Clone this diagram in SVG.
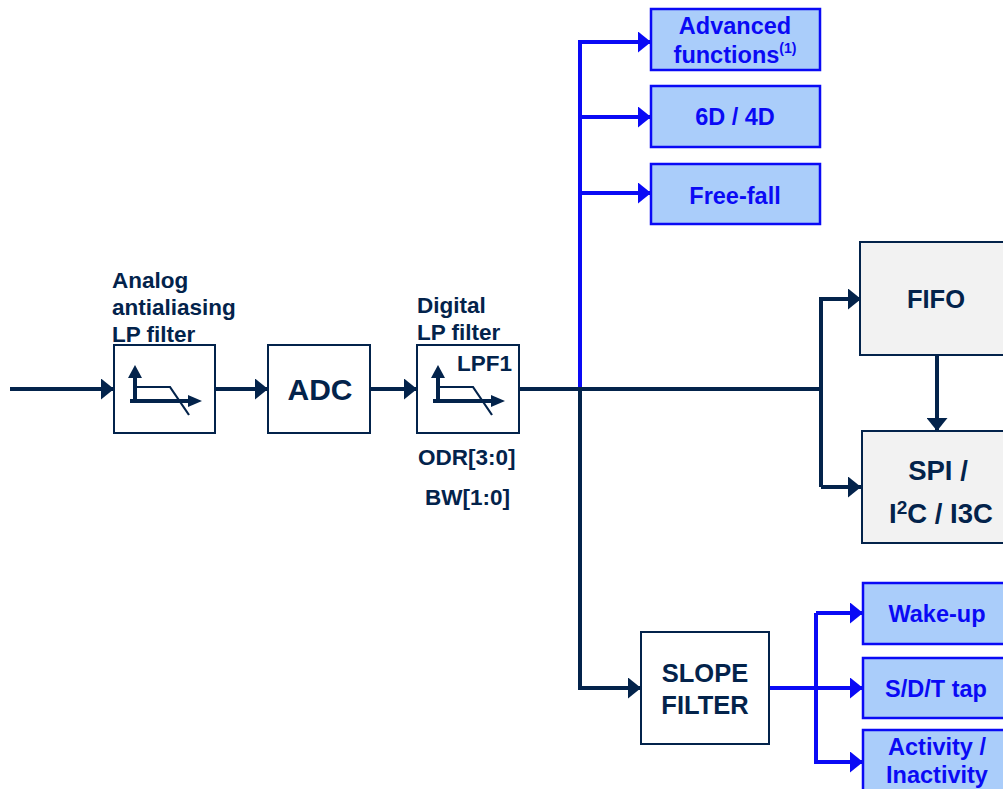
<svg xmlns="http://www.w3.org/2000/svg" width="1003" height="789" viewBox="0 0 1003 789">
<style>
text{font-family:"Liberation Sans",Arial,sans-serif;font-weight:bold}
.lbl{font-size:22.5px;fill:#03234b}
.dk{fill:#03234b}
.bl{fill:#0a0af5;font-size:23.5px}
.wbox{fill:#ffffff;stroke:#03234b;stroke-width:2}
.gbox{fill:#f2f2f2;stroke:#03234b;stroke-width:2}
.bbox{fill:#aacdfa;stroke:#0a0af5;stroke-width:2.5}
.cd{fill:none;stroke:#03234b;stroke-width:4}
.cb{fill:none;stroke:#0a0af5;stroke-width:4}
</style>
<defs>
<marker id="ad" markerUnits="userSpaceOnUse" markerWidth="13" markerHeight="21" refX="13" refY="10.5" orient="auto"><path d="M0,0 L13,10.5 L0,21 z" fill="#03234b"/></marker>
<marker id="ab" markerUnits="userSpaceOnUse" markerWidth="13" markerHeight="21" refX="13" refY="10.5" orient="auto"><path d="M0,0 L13,10.5 L0,21 z" fill="#0a0af5"/></marker>
<g id="icon">
<path d="M21,58 V30" stroke="#03234b" stroke-width="4" fill="none"/>
<path d="M14,33 L21,20 L28,33 z" fill="#03234b"/>
<path d="M16,56 H76" stroke="#03234b" stroke-width="4" fill="none"/>
<path d="M74,50 L88,56 L74,62 z" fill="#03234b"/>
<path d="M19,42 H56 L75,70" stroke="#03234b" stroke-width="2.2" fill="none"/>
</g>
</defs>

<g id="connectors">
<path class="cd" d="M10,389 H114" marker-end="url(#ad)"/>
<path class="cd" d="M215,389 H268" marker-end="url(#ad)"/>
<path class="cd" d="M370,389 H417" marker-end="url(#ad)"/>
<path class="cd" d="M519,389 H821"/>
<path class="cd" d="M821,487 V299 H861" marker-end="url(#ad)"/>
<path class="cd" d="M821,487 H861" marker-end="url(#ad)"/>
<path class="cd" d="M937,355 V431" marker-end="url(#ad)"/>
<path class="cb" d="M580,389 V42 H651" marker-end="url(#ab)"/>
<path class="cb" d="M580,117 H651" marker-end="url(#ab)"/>
<path class="cb" d="M580,193 H651" marker-end="url(#ab)"/>
<path class="cd" d="M580,387 V688 H641" marker-end="url(#ad)"/>
<path class="cb" d="M769,688 H863" marker-end="url(#ab)"/>
<path class="cb" d="M816,613 V762 H863" marker-end="url(#ab)"/>
<path class="cb" d="M816,613 H863" marker-end="url(#ab)"/>
</g>

<g id="aa-filter">
<text class="lbl" x="112" y="288">Analog</text>
<text class="lbl" x="112" y="315">antialiasing</text>
<text class="lbl" x="112" y="342">LP filter</text>
<rect class="wbox" x="114" y="345" width="101" height="88"/>
<use href="#icon" x="114" y="345"/>
</g>

<g id="adc">
<rect class="wbox" x="268" y="345" width="102" height="88"/>
<text class="dk" x="320" y="400" font-size="30" text-anchor="middle">ADC</text>
</g>

<g id="digital-filter">
<text class="lbl" x="417" y="313">Digital</text>
<text class="lbl" x="417" y="340">LP filter</text>
<rect class="wbox" x="417" y="345" width="102" height="88"/>
<use href="#icon" x="417" y="345"/>
<text class="lbl" x="512" y="371" text-anchor="end">LPF1</text>
<text class="lbl" x="418" y="465">ODR[3:0]</text>
<text class="lbl" x="425" y="505">BW[1:0]</text>
</g>

<g id="advanced">
<rect class="bbox" x="651" y="9" width="169" height="61"/>
<text class="bl" x="735" y="34" text-anchor="middle">Advanced</text>
<text class="bl" x="735" y="63" text-anchor="middle">functions<tspan font-size="14" dy="-10">(1)</tspan></text>
</g>

<g id="six-d">
<rect class="bbox" x="651" y="86" width="169" height="61"/>
<text class="bl" x="735" y="125" text-anchor="middle">6D / 4D</text>
</g>

<g id="free-fall">
<rect class="bbox" x="651" y="164" width="169" height="60"/>
<text class="bl" x="735" y="204" text-anchor="middle">Free-fall</text>
</g>

<g id="fifo">
<rect class="gbox" x="860" y="242" width="150" height="113"/>
<text class="dk" x="936" y="308" font-size="25.5" text-anchor="middle">FIFO</text>
</g>

<g id="spi">
<rect class="gbox" x="862" y="431" width="150" height="112"/>
<text class="dk" x="938" y="480" font-size="27.5" text-anchor="middle">SPI /</text>
<text class="dk" x="941" y="523" font-size="27.5" text-anchor="middle">I<tspan font-size="19" dy="-9">2</tspan><tspan dy="9">C / I3C</tspan></text>
</g>

<g id="slope">
<rect class="wbox" x="641" y="632" width="128" height="112"/>
<text class="dk" x="705" y="682" font-size="25.5" text-anchor="middle">SLOPE</text>
<text class="dk" x="705" y="714" font-size="25.5" text-anchor="middle">FILTER</text>
</g>

<g id="wake-up">
<rect class="bbox" x="863" y="583" width="150" height="61"/>
<text class="bl" x="937" y="622" text-anchor="middle">Wake-up</text>
</g>

<g id="sdt-tap">
<rect class="bbox" x="863" y="658" width="150" height="60"/>
<text class="bl" x="936" y="697" text-anchor="middle">S/D/T tap</text>
</g>

<g id="activity">
<rect class="bbox" x="863" y="730" width="150" height="70"/>
<text class="bl" x="937" y="755" text-anchor="middle">Activity /</text>
<text class="bl" x="937" y="783" text-anchor="middle">Inactivity</text>
</g>
</svg>
